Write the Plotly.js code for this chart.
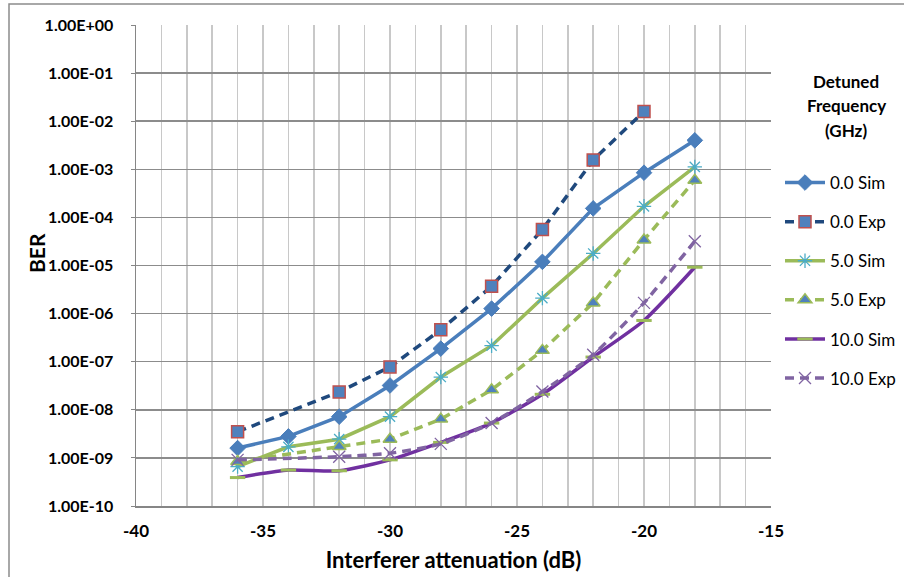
<!DOCTYPE html>
<html>
<head>
<meta charset="utf-8">
<script src="https://cdn.plot.ly/plotly-3.0.1.min.js"></script>
<style>html,body{margin:0;padding:0;background:#fff;}#chart{width:904px;height:577px;}</style>
</head>
<body>
<div id="chart"></div>
<script>
// Interferer attenuation (dB)
const attenSim = [-36, -34, -32, -30, -28, -26, -24, -22, -20, -18];
const attenExp0 = [-36, -32, -30, -28, -26, -24, -22, -20];
const attenExp = [-36, -32, -30, -28, -26, -24, -22, -20, -18];

// BER values
const sim00 = [1.6e-9, 2.8e-9, 7.2e-9, 3.2e-8, 1.87e-7, 1.27e-6, 1.19e-5, 1.54e-4, 8.5e-4, 4.0e-3];
const exp00 = [3.5e-9, 2.35e-8, 7.8e-8, 4.6e-7, 3.7e-6, 5.6e-5, 1.56e-3, 1.6e-2];
const sim50 = [6.6e-10, 1.7e-9, 2.45e-9, 7.2e-9, 4.8e-8, 2.15e-7, 2.1e-6, 1.78e-5, 1.7e-4, 1.12e-3];
const exp50 = [8.4e-10, 1.72e-9, 2.45e-9, 6.4e-9, 2.6e-8, 1.72e-7, 1.67e-6, 3.4e-5, 5.9e-4];
const sim100 = [3.9e-10, 5.6e-10, 5.4e-10, 9.1e-10, 2.1e-9, 5.3e-9, 2.1e-8, 1.25e-7, 7.2e-7, 9.2e-6];
const exp100 = [9.1e-10, 1.06e-9, 1.25e-9, 1.96e-9, 5.3e-9, 2.4e-8, 1.4e-7, 1.67e-6, 3.2e-5];

const names = ['0.0 Sim', '0.0 Exp', '5.0 Sim', '5.0 Exp', '10.0 Sim', '10.0 Exp'];
const legendTitleLines = ['Detuned', 'Frequency', '(GHz)'];
const xTickVals = [-40, -35, -30, -25, -20, -15];
const xTickText = ['-40', '-35', '-30', '-25', '-20', '-15'];
const yTickVals = [1e0, 1e-1, 1e-2, 1e-3, 1e-4, 1e-5, 1e-6, 1e-7, 1e-8, 1e-9, 1e-10];
const yTickText = ['1.00E+00', '1.00E-01', '1.00E-02', '1.00E-03', '1.00E-04', '1.00E-05', '1.00E-06', '1.00E-07', '1.00E-08', '1.00E-09', '1.00E-10'];

const FONT = 'Lato, "Open Sans", sans-serif';
const W = 904, H = 577;
const PLOT_L = 136, PLOT_W = 635, PLOT_T = 25, PLOT_H = 481;
const px2x = p => (p - PLOT_L) / PLOT_W;
const px2y = p => 1 - (p - PLOT_T) / PLOT_H;

const traces = [
  {x: attenSim, y: sim00, name: names[0], legendgroup: 'a', mode: 'lines+markers',
   line: {color: '#4A7EBB', width: 3.5},
   marker: {symbol: 'diamond', size: 12, color: '#4A7EBB', line: {color: '#4A7EBB', width: 1}}},
  {x: attenExp0, y: exp00, name: names[1], legendgroup: 'b', mode: 'lines+markers',
   line: {color: '#1F497D', width: 3.5, dash: '9px,6px'},
   marker: {symbol: 'square', size: 12, color: '#4F81BD', line: {color: '#C0504D', width: 1.5}}},
  {x: attenSim, y: sim50, name: names[2], legendgroup: 'c', mode: 'lines+markers',
   line: {color: '#9BBB59', width: 3.5},
   marker: {symbol: 'asterisk-open', size: 12, color: '#4BACC6', line: {color: '#4BACC6', width: 1.3}}},
  {x: attenExp, y: exp50, name: names[3], legendgroup: 'd', mode: 'lines+markers',
   line: {color: '#9BBB59', width: 3.5, dash: '9px,6px'},
   marker: {symbol: 'triangle-up', size: 12, color: '#4F81BD', line: {color: '#9BBB59', width: 1.5}}},
  {x: attenSim, y: sim100, name: names[4], legendgroup: 'e', mode: 'lines+markers',
   line: {color: '#7030A0', width: 3.5, shape: 'spline', smoothing: 0.6},
   marker: {symbol: 'line-ew-open', size: 11, color: '#9BBB59', line: {color: '#9FC5C8', width: 3}}},
  {x: attenExp, y: exp100, name: names[5], legendgroup: 'f', mode: 'lines+markers',
   line: {color: '#8064A2', width: 3.5, dash: '9px,6px', shape: 'spline', smoothing: 0.6},
   marker: {symbol: 'x-thin-open', size: 12, color: '#8064A2', line: {color: '#8064A2', width: 1.3}}}
];

const titleY = [81, 105, 130];
const annotations = legendTitleLines.map((t, i) => ({
  text: '<b>' + t + '</b>', xref: 'paper', yref: 'paper',
  x: px2x(846), y: px2y(titleY[i]), xanchor: 'center', yanchor: 'middle',
  showarrow: false, font: {family: FONT, size: 17, color: '#000'}
}));
annotations.push({
  text: '<b>BER</b>', xref: 'paper', yref: 'paper',
  x: px2x(36), y: px2y(253), xanchor: 'center', yanchor: 'middle', textangle: -90,
  showarrow: false, font: {family: FONT, size: 21, color: '#000'}
});

const layout = {
  width: W, height: H,
  margin: {l: PLOT_L, r: W - PLOT_L - PLOT_W, t: PLOT_T, b: H - PLOT_T - PLOT_H},
  paper_bgcolor: '#ffffff', plot_bgcolor: '#ffffff',
  font: {family: FONT, size: 14, color: '#000'},
  showlegend: true,
  legend: {
    xref: 'container', yref: 'container',
    x: 780 / W, xanchor: 'left', y: 1 - 165 / H, yanchor: 'top',
    font: {family: FONT, size: 17, color: '#000'},
    tracegroupgap: 14,
    itemwidth: 40,
    bgcolor: 'rgba(0,0,0,0)'
  },
  annotations: annotations,
  xaxis: {
    range: [-40, -15], tickvals: xTickVals, ticktext: xTickText,
    showgrid: true, gridcolor: '#C8C8C8', gridwidth: 1.5,
    minor: {dtick: 1, showgrid: true, gridcolor: '#C8C8C8', gridwidth: 1.5},
    showline: true, linecolor: '#868686', linewidth: 1.5,
    ticks: '', zeroline: false, automargin: false,
    tickfont: {family: FONT, size: 17, color: '#000', weight: 'bold'},
    ticklabelstandoff: 9,
    title: {text: '<b>Interferer attenuation (dB)</b>', font: {family: FONT, size: 22, color: '#000'}, standoff: 12}
  },
  yaxis: {
    type: 'log', range: [-10, 0],
    tickvals: yTickVals, ticktext: yTickText,
    showgrid: true, gridcolor: '#8C8C8C', gridwidth: 1.5,
    showline: true, linecolor: '#868686', linewidth: 1.5,
    ticks: 'outside', ticklen: 4, tickcolor: '#868686',
    zeroline: false, automargin: false,
    tickfont: {family: FONT, size: 16, color: '#000', weight: 'bold'},
    ticklabelstandoff: 14
  },
  shapes: [{
    type: 'rect', xref: 'paper', yref: 'paper',
    x0: px2x(9), x1: px2x(915),
    y0: px2y(590), y1: px2y(4),
    line: {color: '#8C8C8C', width: 1.5}, fillcolor: 'rgba(0,0,0,0)', layer: 'below'
  }]
};

Plotly.newPlot('chart', traces, layout, {displayModeBar: false, staticPlot: true});
</script>
</body>
</html>
